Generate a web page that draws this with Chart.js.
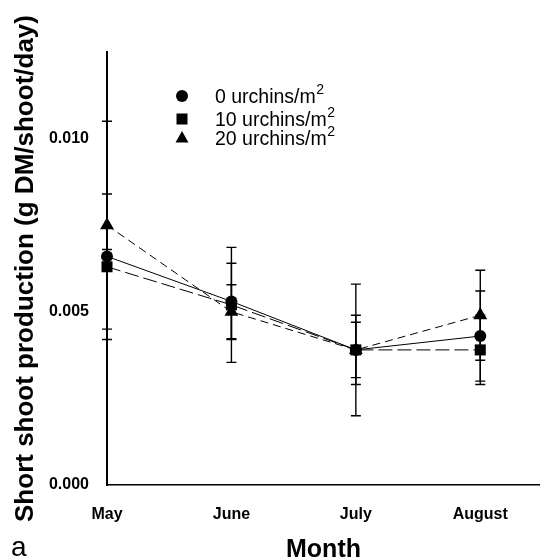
<!DOCTYPE html>
<html>
<head>
<meta charset="utf-8">
<script src="https://cdn.jsdelivr.net/npm/chart.js@4.4.1/dist/chart.umd.min.js"></script>
<style>
  html, body { margin: 0; padding: 0; background: #ffffff; overflow: hidden; }
  #wrap { width: 540px; height: 559px; position: relative; }
  canvas { display: block; }
</style>
</head>
<body>
<div id="wrap"><canvas id="c" width="540" height="559"></canvas></div>
<script>
// ---- data ----
const months = ['May', 'June', 'July', 'August'];
const monthPos = [0, 1, 2, 3];
const yTicks = [0, 0.005, 0.010];
const seriesNames = ['0 urchins/m', '10 urchins/m', '20 urchins/m'];

const urch0 = [0.0066, 0.0053, 0.0039, 0.0043];
const urch0Err = [0.0002, 0.0011, 0.0010, 0.0013];
const urch10 = [0.0063, 0.0052, 0.0039, 0.0039];
const urch10Err = [0.0021, 0.00166, 0.0008, 0.0010];
const urch20 = [0.0075, 0.0050, 0.0039, 0.0049];
const urch20Err = [0.0030, 0.00078, 0.0019, 0.0013];

const FONT = '"Liberation Sans", Arial, Helvetica, sans-serif';

function pts(vals) { return vals.map((v, i) => ({ x: monthPos[i], y: v })); }

const errorBars = {
  id: 'errorBars',
  beforeDatasetsDraw(chart) {
    const ctx = chart.ctx;
    const xs = chart.scales.x, ys = chart.scales.y;
    ctx.save();
    ctx.strokeStyle = '#000';
    ctx.lineWidth = 1.4;
    chart.data.datasets.forEach(ds => {
      const errs = ds.errors;
      ds.data.forEach((p, i) => {
        const x = xs.getPixelForValue(p.x);
        const yt = ys.getPixelForValue(p.y + errs[i]);
        const yb = ys.getPixelForValue(p.y - errs[i]);
        ctx.beginPath();
        ctx.moveTo(x, yt); ctx.lineTo(x, yb);
        ctx.moveTo(x - 5, yt); ctx.lineTo(x + 5, yt);
        ctx.moveTo(x - 5, yb); ctx.lineTo(x + 5, yb);
        ctx.stroke();
      });
    });
    ctx.restore();
  }
};

function marker(ctx, style, x, y) {
  ctx.beginPath();
  if (style === 'circle') {
    ctx.arc(x, y, 6, 0, Math.PI * 2);
  } else if (style === 'rect') {
    ctx.rect(x - 5.5, y - 5.5, 11, 11);
  } else {
    ctx.moveTo(x, y - 7);
    ctx.lineTo(x + 6.5, y + 4.5);
    ctx.lineTo(x - 6.5, y + 4.5);
    ctx.closePath();
  }
  ctx.fill();
}

const extras = {
  id: 'extras',
  afterDraw(chart) {
    const ctx = chart.ctx;
    ctx.save();
    ctx.fillStyle = '#000';
    const styles = ['circle', 'rect', 'triangle'];
    const my = [96, 119, 138];
    const ty = [98, 121, 140];
    for (let i = 0; i < 3; i++) {
      marker(ctx, styles[i], 182, my[i]);
      ctx.font = '19.5px ' + FONT;
      ctx.textBaseline = 'middle';
      ctx.textAlign = 'left';
      ctx.fillText(seriesNames[i], 215, ty[i]);
      const w = ctx.measureText(seriesNames[i]).width;
      ctx.font = '14px ' + FONT;
      ctx.fillText('2', 215 + w + 0.5, ty[i] - 8);
    }
    ctx.font = '28px ' + FONT;
    ctx.textBaseline = 'alphabetic';
    ctx.fillText('a', 11, 556);
    ctx.restore();
  }
};

new Chart(document.getElementById('c'), {
  type: 'line',
  data: {
    datasets: [
      { label: '0 urchins/m2', data: pts(urch0), errors: urch0Err,
        borderColor: '#000', backgroundColor: '#000', borderWidth: 1,
        pointStyle: 'circle', pointRadius: 6, pointBorderWidth: 0, clip: false },
      { label: '10 urchins/m2', data: pts(urch10), errors: urch10Err,
        borderColor: '#000', backgroundColor: '#000', borderWidth: 1, borderDash: [14, 5],
        pointStyle: 'rect', pointRadius: 7.8, pointBorderWidth: 0, clip: false },
      { label: '20 urchins/m2', data: pts(urch20), errors: urch20Err,
        borderColor: '#000', backgroundColor: '#000', borderWidth: 1, borderDash: [8, 5],
        pointStyle: 'triangle', pointRadius: 8, pointBorderWidth: 0, clip: false }
    ]
  },
  options: {
    responsive: false,
    animation: false,
    layout: { autoPadding: false, padding: { left: 13, top: 52, right: 0, bottom: 0 } },
    plugins: { legend: { display: false }, tooltip: { enabled: false } },
    scales: {
      x: {
        type: 'linear', min: 0, max: 3.48, bounds: 'data',
        afterDataLimits: s => { s.min = 0; s.max = 3.48; },
        afterBuildTicks: s => { s.ticks = monthPos.map(v => ({ value: v })); },
        afterFit: s => { s.height = 74; s.paddingLeft = 0; s.paddingRight = 0; },
        grid: { display: false, drawTicks: false },
        border: { display: true, color: '#000', width: 1.5 },
        ticks: {
          padding: 20, color: '#000', maxRotation: 0, autoSkip: false,
          font: { family: FONT, size: 16, weight: 'bold' },
          callback: v => months[monthPos.indexOf(v)]
        },
        title: { display: true, text: 'Month', color: '#000', padding: 0,
          font: { family: FONT, size: 25, weight: 'bold', lineHeight: 0.75 } }
      },
      y: {
        type: 'linear', min: 0, max: 0.0125,
        afterBuildTicks: s => { s.ticks = yTicks.map(v => ({ value: v })); },
        afterFit: s => { s.width = 94; s.paddingTop = 0; s.paddingBottom = 0; },
        grid: { display: false, drawTicks: false },
        border: { display: true, color: '#000', width: 2 },
        ticks: {
          padding: 18, color: '#000',
          font: { family: FONT, size: 16, weight: 'bold' },
          callback: v => v.toFixed(3)
        },
        title: { display: true, text: 'Short shoot production (g DM/shoot/day)', color: '#000', padding: 0,
          font: { family: FONT, size: 26, weight: 'bold', lineHeight: 1 } }
      }
    }
  },
  plugins: [errorBars, extras]
});
</script>
</body>
</html>
